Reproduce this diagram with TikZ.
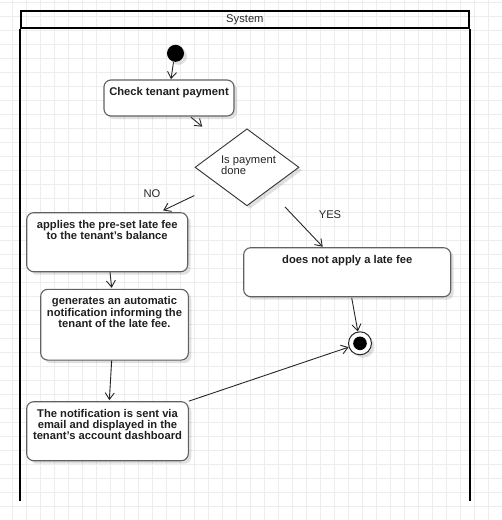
\documentclass[tikz,border=0pt]{standalone}
\usepackage{fontspec}
\setmainfont{Liberation Sans}
\usetikzlibrary{arrows.meta,shapes.geometric,shadows,calc}
\newcommand\acttext[3]{\parbox[t][#2][t]{#1}{\centering\rule{0pt}{15.5pt}#3}}
\begin{document}
\begin{tikzpicture}[x=1pt,y=-1pt,
  font=\fontsize{11.2}{11.3}\selectfont,
  gridline/.style={draw=black!7,line width=1.1pt},
  shad/.style={drop shadow={shadow xshift=3pt,shadow yshift=-3pt,opacity=0.12,fill=black}},
  actbox/.style={draw=black!62,line width=1.1pt,rounded corners=7pt,fill=white,inner sep=0pt,
    text=black!88,font=\fontsize{11.2}{11.3}\selectfont\bfseries,shad},
  lanebox/.style={draw=black,line width=1.8pt,inner sep=0pt,text=black!85},
  laneline/.style={draw=black,line width=1.8pt},
  arr/.style={draw=black!85,line width=0.9pt,-{Straight Barb[length=6.5pt,width=9pt]}},
  lbl/.style={text=black!85,inner sep=0pt}]
\useasboundingbox (0,0) rectangle (502,520);
% background grid
\foreach \gx in {12.7,26.7,...,502} {\draw[gridline] (\gx,0) -- (\gx,520);}
\foreach \gy in {2.3,16.3,...,520} {\draw[gridline] (0,\gy) -- (502,\gy);}
% swimlane
\node[lanebox,minimum width=448pt,minimum height=17.3pt,anchor=north west] (lane) at (20,10) {System};
\draw[laneline] (lane.south west) -- ++(0,472.2);
\draw[laneline] (lane.south east) -- ++(0,472.2);
% initial and final
\node[circle,fill=black,minimum size=17pt,inner sep=0pt,shad] (start) at (175.5,53.3) {};
\node[circle,draw=black!85,line width=1pt,fill=white,minimum size=23pt,inner sep=0pt,shad] (end) at (360,343.3) {};
\fill[black] (end.center) circle (6.8pt);
% actions
\node[actbox] (check) at (169,98) {\acttext{130pt}{36pt}{Check tenant payment}};
\node[diamond,draw=black!80,line width=0.9pt,fill=white,minimum width=104pt,minimum height=77pt,inner sep=0pt,shad] (dia) at (247,167.3) {};
\node[lbl,align=left] (qtxt) at ($(dia.center)+(1.5,-2.3)$) {Is payment\\done};
\node[actbox] (applies) at (107.2,242.2) {\acttext{161pt}{59pt}{applies the pre-set late fee\\to the tenant's balance}};
\node[actbox] (notapply) at (347.2,272.2) {\acttext{207pt}{49pt}{does not apply a late fee}};
\node[actbox] (gen) at (114.5,324.7) {\acttext{147.6pt}{70.7pt}{generates an automatic\\notification informing the\\tenant of the late fee.}};
\node[actbox] (notif) at (107.5,431.2) {\acttext{161.6pt}{59pt}{The notification is sent via\\email and displayed in the\\tenant's account dashboard}};
% labels
\node[lbl] (no) at (152,194) {NO};
\node[lbl] (yes) at (330,215) {YES};
% connectors
\draw[arr] ($(start.south)+(-2,0)$) -- ($(check.north)+(2,-0.3)$);
\draw[arr] ($(check.south)+(22,0.7)$) -- ($(dia.north)+(-44.7,-1.7)$);
\draw[arr] ($(dia.south)+(-52.7,-10.7)$) -- ($(applies.north)+(56,-1.7)$);
\draw[arr] ($(dia.south)+(38,0.7)$) -- ($(notapply.north)+(-24.5,-0.4)$);
\draw[arr] ($(applies.south)+(2.8,0)$) -- ($(gen.north)+(-2.8,-1)$);
\draw[arr] ($(gen.south)+(-2.8,0)$) -- ($(notif.north)+(1.8,-1)$);
\draw[arr] ($(notapply.south)+(4.5,0.6)$) -- (end);
\draw[arr] (notif.north east) -- (end);
\end{tikzpicture}
\end{document}
